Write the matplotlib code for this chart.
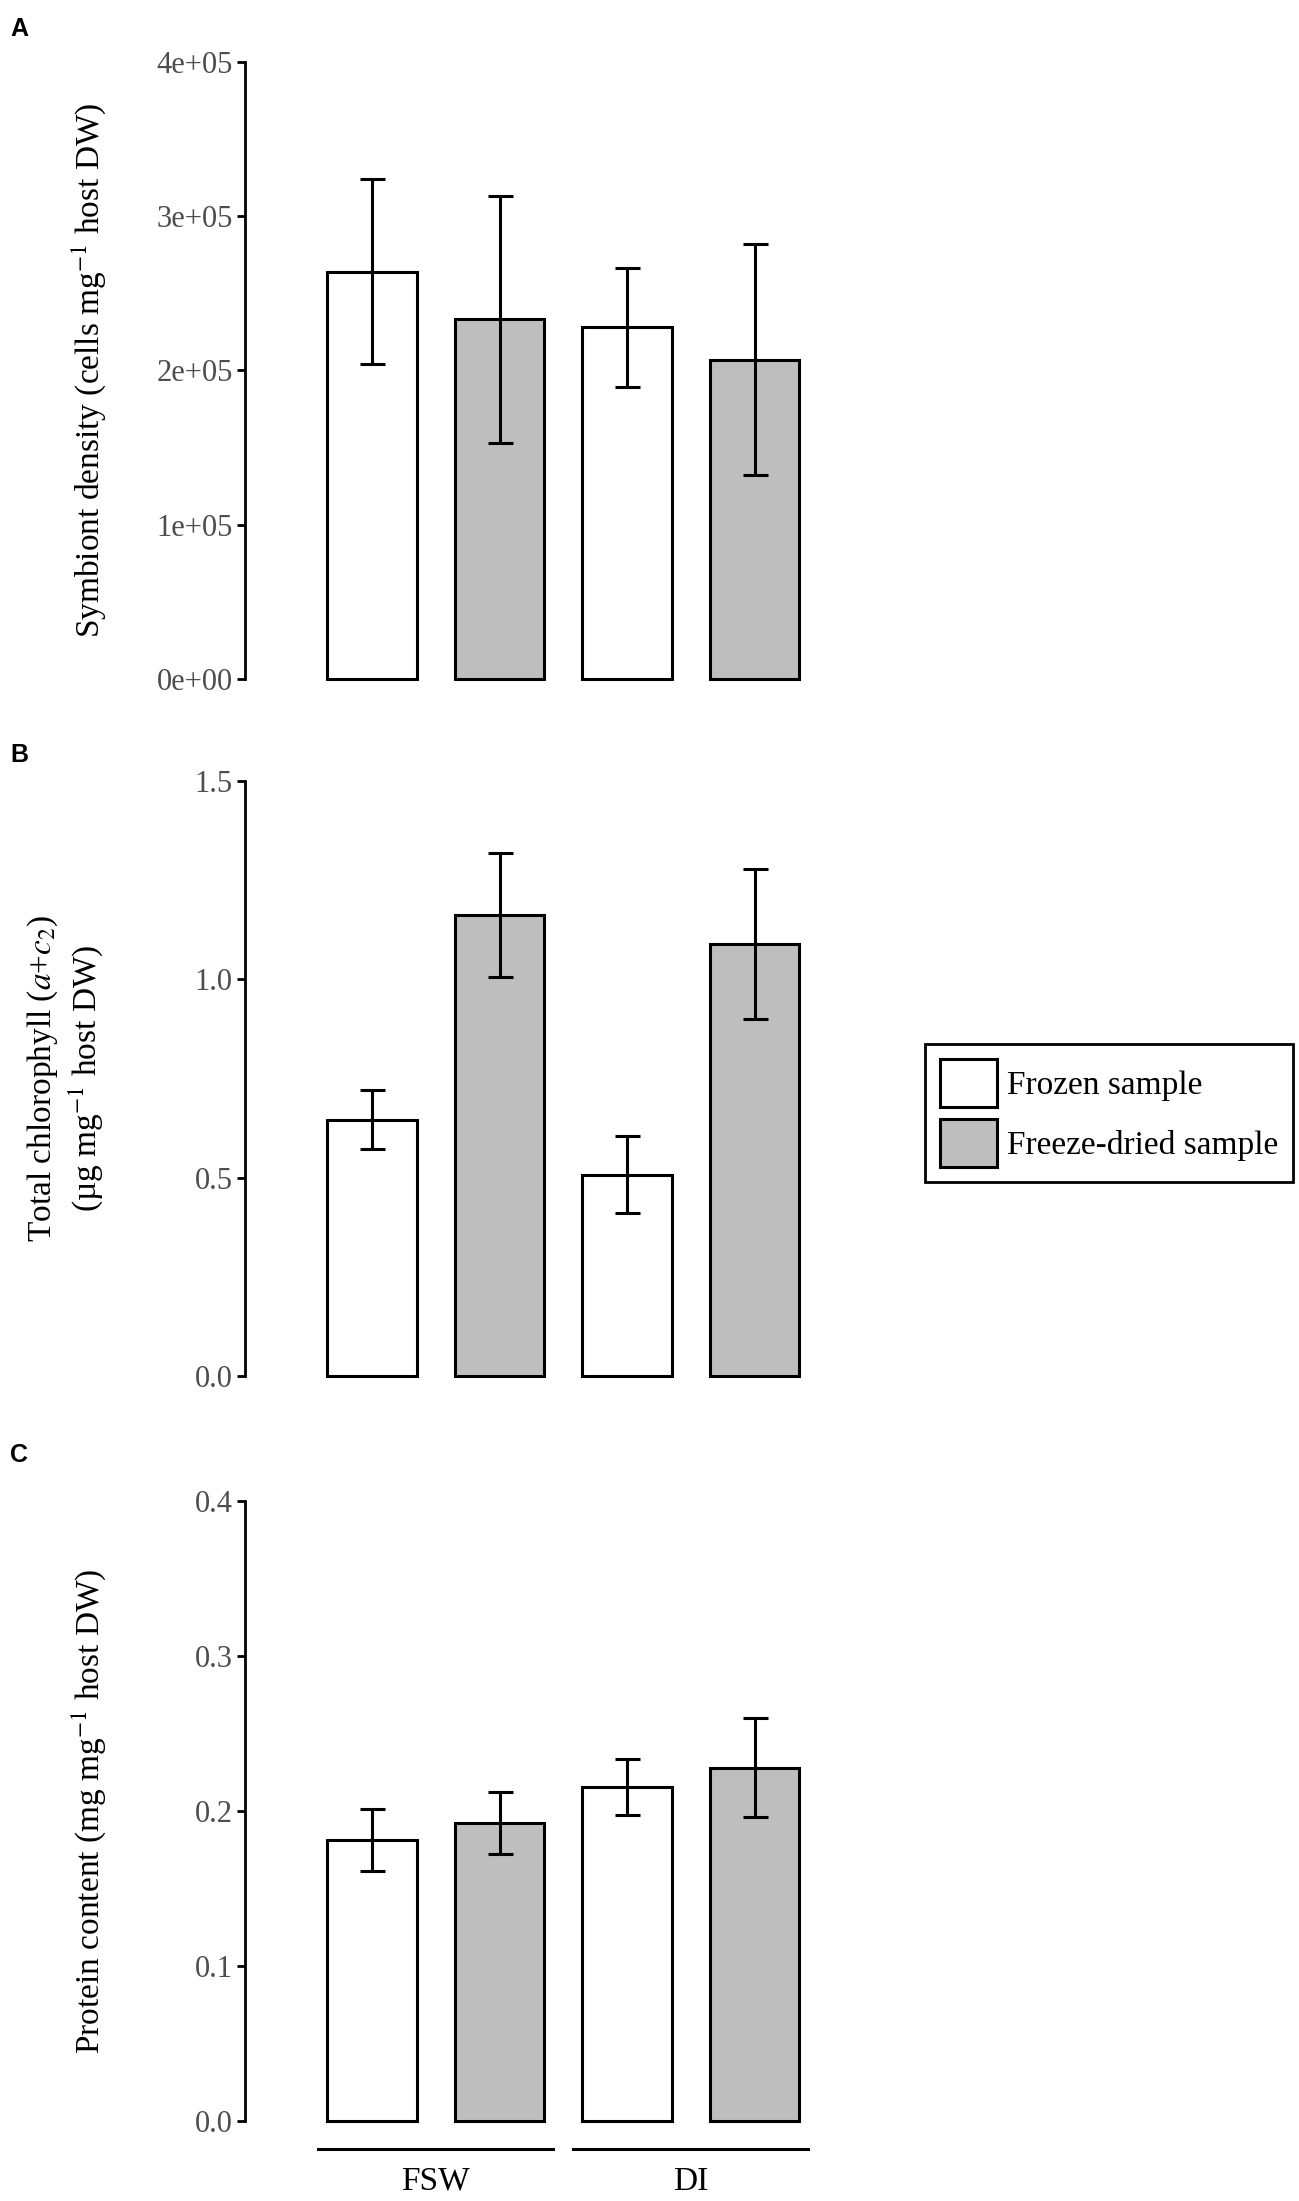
import numpy as np
import matplotlib
matplotlib.use('Agg')
import matplotlib.pyplot as plt
from matplotlib.patches import Patch

plt.rcParams['font.family'] = ['Liberation Serif', 'DejaVu Serif']
plt.rcParams['mathtext.fontset'] = 'stix'

#%% Dados
grupos = ['FSW', 'DI']
amostras = ['Frozen sample', 'Freeze-dried sample']
cores = ['white', '#BEBEBE']

dens_media = [2.64e5, 2.33e5, 2.28e5, 2.07e5]
dens_erro = [0.60e5, 0.80e5, 0.385e5, 0.75e5]
dens_ticks = [0, 1e5, 2e5, 3e5, 4e5]
dens_labels = ['0e+00', '1e+05', '2e+05', '3e+05', '4e+05']

chl_media = [0.646, 1.163, 0.507, 1.089]
chl_erro = [0.074, 0.156, 0.097, 0.190]
chl_ticks = [0.0, 0.5, 1.0, 1.5]
chl_labels = ['0.0', '0.5', '1.0', '1.5']

prot_media = [0.181, 0.192, 0.2155, 0.228]
prot_erro = [0.020, 0.020, 0.018, 0.032]
prot_ticks = [0.0, 0.1, 0.2, 0.3, 0.4]
prot_labels = ['0.0', '0.1', '0.2', '0.3', '0.4']

#%% Figura
W, H = 1299, 2201
fig = plt.figure(figsize=(W / 100, H / 100), dpi=100)

x = np.arange(1, 5)
fill = [cores[0], cores[1], cores[0], cores[1]]
left = 244.5 / W
width = 4.45 * 127.5 / W

def painel(top_px, bot_px, media, erro, ticks, labels, ylabel, letra, letra_y, lab_x):
    ax = fig.add_axes([left, 1 - bot_px / H, width, (bot_px - top_px) / H])
    ax.bar(x, media, width=0.7, color=fill, edgecolor='black', linewidth=2.2,
           clip_on=False, zorder=2)
    ax.errorbar(x, media, yerr=erro, fmt='none', ecolor='black', elinewidth=2.2,
                capsize=9, capthick=2.2, zorder=3)
    ax.set_xlim(0, 4.45)
    ax.set_ylim(ticks[0], ticks[-1])
    ax.set_yticks(ticks)
    ax.set_yticklabels(labels)
    ax.set_xticks([])
    for s in ['top', 'right', 'bottom']:
        ax.spines[s].set_visible(False)
    ax.spines['left'].set_linewidth(2.0)
    ax.tick_params(axis='y', length=5.5, width=2.0, pad=3, labelsize=22,
                   labelcolor='#4D4D4D')
    ax.set_ylabel(ylabel, fontsize=24)
    ax.yaxis.set_label_coords(lab_x, 0.5)
    fig.text(10 / W, 1 - letra_y / H, letra, fontsize=18,
             fontweight='bold', family='Liberation Sans', va='baseline')
    return ax

axA = painel(61.7, 679, dens_media, dens_erro, dens_ticks, dens_labels,
             'Symbiont density (cells mg$^{-1}$ host DW)', 'A', 36, -0.241)
axB = painel(781, 1376, chl_media, chl_erro, chl_ticks, chl_labels,
             'Total chlorophyll ($a$+$c_2$)\n(µg mg$^{-1}$ host DW)', 'B', 762, -0.246)
axC = painel(1501, 2121, prot_media, prot_erro, prot_ticks, prot_labels,
             'Protein content (mg mg$^{-1}$ host DW)', 'C', 1462, -0.241)

# linhas dos grupos
tr = axC.get_xaxis_transform()
for i, g in enumerate(grupos):
    x0 = 1 + 2 * i
    axC.plot([x0 - 0.42, x0 + 1.42], [-0.045, -0.045], color='black',
             linewidth=2.2, transform=tr, clip_on=False)
    axC.text(x0 + 0.5, -0.111, g, transform=tr, ha='center', va='baseline',
             fontsize=24)

handles = [Patch(facecolor=c, edgecolor='black', linewidth=2.2) for c in cores]
leg = fig.legend(handles, amostras, loc='upper left',
                 bbox_to_anchor=(925 / W, 1 - 1044 / H), borderaxespad=0,
                 fontsize=24, frameon=True, fancybox=False, framealpha=1,
                 edgecolor='black', handlelength=1.71, handleheight=1.85,
                 labelspacing=0.35, borderpad=0.45, handletextpad=0.3)
leg.get_frame().set_linewidth(2.0)

fig.savefig('out.png', dpi=100)
